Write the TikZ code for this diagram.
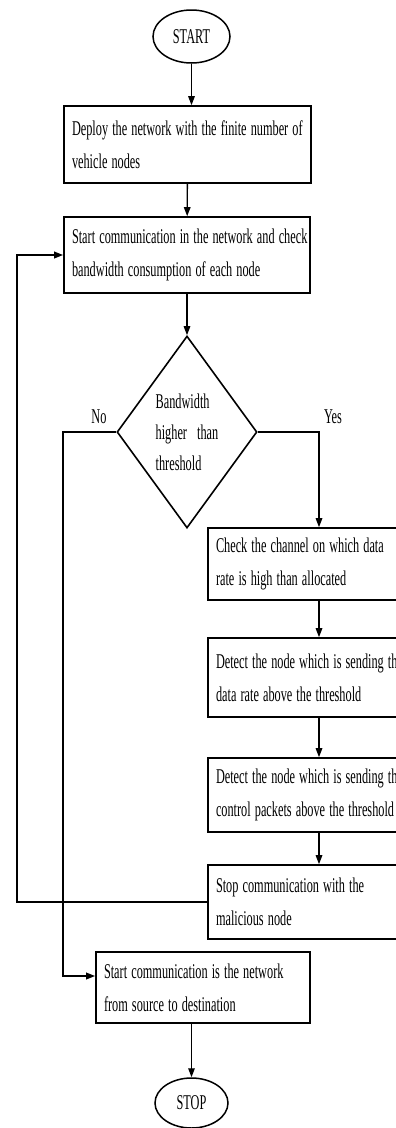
\documentclass[tikz,border=0pt]{standalone}
\usepackage{fontspec}
\usepackage{graphicx}
\setmainfont{Liberation Serif}
\newcommand{\sq}[1]{\scalebox{0.585}[1]{#1}}
\usetikzlibrary{shapes.geometric,arrows.meta}
\begin{document}
\begin{tikzpicture}[x=1pt,y=-1pt,
  box/.style={draw, line width=1.6pt, rectangle, inner xsep=8pt, inner ysep=0pt, align=left, font=\fontsize{21}{33}\selectfont},
  term/.style={draw, ellipse, line width=1.5pt, inner sep=0pt, font=\fontsize{21}{24}\selectfont},
  decision/.style={draw, diamond, line width=1.6pt, inner sep=0pt, align=left, font=\fontsize{21}{31}\selectfont},
  arr/.style={-{Triangle[length=9pt,width=6.5pt]}, line width=1.4pt},
  loopline/.style={-{Triangle[length=9pt,width=6.5pt]}, line width=1.8pt},
  lab/.style={font=\fontsize{21}{24}\selectfont, inner sep=0pt}]
\useasboundingbox (0,0) rectangle (396,1128);
\clip (0,0) rectangle (396,1128);

\node[term, minimum width=77pt, minimum height=53pt] (start) at (191.5,36.5) {\sq{START}};
\node[box, minimum width=247pt, minimum height=77pt, text width=231pt] (deploy) at (187.5,144.5) {\sq{Deploy the network with the finite number of}\\\sq{vehicle nodes}};
\node[box, minimum width=246pt, minimum height=76pt, text width=230pt] (comm) at (187,255) {\sq{Start communication in the network and check}\\\sq{bandwidth consumption of each node}};
\node[decision, minimum width=140pt, minimum height=192pt] (dec) at (187,432) {\sq{Bandwidth}\\\sq{higher\hspace{12pt} than}\\\sq{threshold}};
\node[box, minimum width=222pt, minimum height=72pt, text width=206pt] (check) at (319,564) {\sq{Check the channel on which data}\\\sq{rate is high than allocated}};
\node[box, minimum width=222pt, minimum height=79pt, text width=206pt] (det1) at (319,677.5) {\sq{Detect the node which is sending the}\\\sq{data rate above the threshold}};
\node[box, minimum width=222pt, minimum height=74pt, text width=206pt] (det2) at (319,795) {\sq{Detect the node which is sending the}\\\sq{control packets above the threshold}};
\node[box, minimum width=222pt, minimum height=74pt, text width=206pt] (stopc) at (319,902) {\sq{Stop communication with the}\\\sq{malicious node}};
\node[box, minimum width=214pt, minimum height=71pt, text width=198pt] (net) at (203,987.5) {\sq{Start communication is the network}\\\sq{from source to destination}};
\node[term, minimum width=73pt, minimum height=50pt] (stopend) at (191.5,1103) {\sq{STOP}};

\node[lab] (no) at (99,417) {\sq{No}};
\node[lab] (yes) at (333,417) {\sq{Yes}};

\draw[arr] (start.south) -- (start.south |- deploy.north);
\draw[arr] (deploy) -- (comm);
\draw[arr] (comm) -- (dec);
\draw[loopline] (dec.west) -- ++(-53,0) |- ([yshift=11.5pt]net.west);
\draw[arr] (dec.east) -| (check.north);
\draw[arr] (check) -- (det1);
\draw[arr] (det1) -- (det2);
\draw[arr] (det2) -- (stopc);
\draw[loopline] (stopc.west) -- ++(-190,0) |- (comm.west);
\draw[arr] (stopend.north |- net.south) -- (stopend.north);
\end{tikzpicture}
\end{document}
